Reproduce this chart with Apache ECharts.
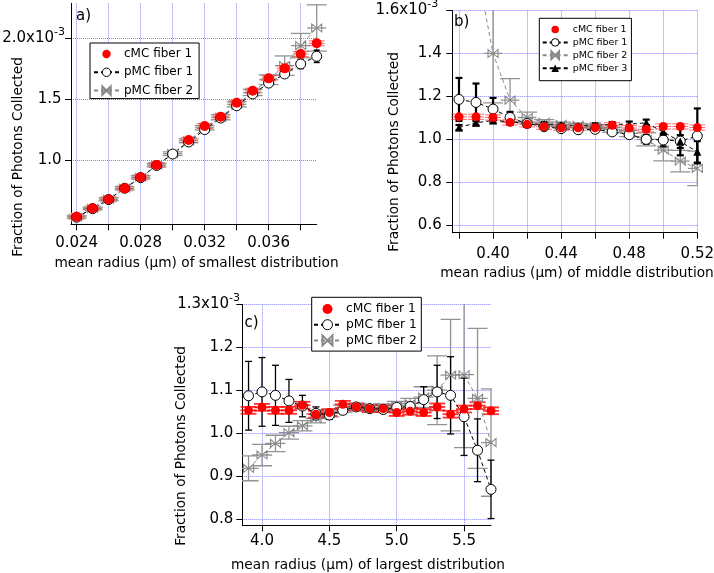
<!DOCTYPE html>
<html><head><meta charset="utf-8">
<script src="https://cdn.jsdelivr.net/npm/echarts@6/dist/echarts.min.js"></script>
<style>html,body{margin:0;padding:0;background:#fff}#c{width:714px;height:573px}</style>
</head><body><div id="c"></div>
<script>
// ---------- DATA (y values in units of 1e-3) ----------
// Panel a: smallest distribution
const aX = [0.024, 0.025, 0.026, 0.027, 0.028, 0.029, 0.030, 0.031, 0.032, 0.033, 0.034, 0.035, 0.036, 0.037, 0.038, 0.039];
const aCmc = [0.534, 0.603, 0.677, 0.767, 0.858, 0.959, null, 1.164, 1.279, 1.356, 1.471, 1.569, 1.671, 1.753, 1.871, 1.959];
const aP1 = [0.530, 0.600, 0.675, 0.768, 0.855, 0.955, 1.049, 1.148, 1.250, 1.345, 1.446, 1.543, 1.632, 1.707, 1.789, 1.852];
const aP1Err = [0.008, 0.008, 0.009, 0.009, 0.010, 0.010, 0.011, 0.012, 0.013, 0.014, 0.015, 0.016, 0.020, 0.027, 0.037, 0.050];
const aP2 = [0.532, 0.602, 0.678, 0.768, 0.858, 0.958, 1.052, 1.158, 1.265, 1.350, 1.458, 1.555, 1.660, 1.775, 1.940, 2.085];
const aP2Err = [0.010, 0.010, 0.012, 0.012, 0.013, 0.014, 0.015, 0.016, 0.018, 0.020, 0.022, 0.025, 0.040, 0.080, 0.100, 0.190];
const aCmcYErr = 0.02, aCmcXErr = 0.0005, aP2XErr = 0.0006;
const aXTicks = [0.024, 0.026, 0.028, 0.030, 0.032, 0.034, 0.036, 0.038];
const aXLabels = [0.024, 0.028, 0.032, 0.036];
const aYTicks = [1.0, 1.5, 2.0];

// Panel b: middle distribution
const bX = [0.38, 0.39, 0.40, 0.41, 0.42, 0.43, 0.44, 0.45, 0.46, 0.47, 0.48, 0.49, 0.50, 0.51, 0.52];
const bCmc = [1.105, 1.105, 1.102, 1.079, 1.070, 1.059, 1.054, 1.054, 1.054, 1.066, 1.053, 1.047, 1.060, 1.060, 1.055];
const bP1 = [1.186, 1.172, 1.141, 1.102, 1.074, 1.059, 1.050, 1.045, 1.047, 1.035, 1.022, 1.000, 0.997, 0.992, 1.016];
const bP1Err = [0.100, 0.088, 0.052, 0.026, 0.012, 0.010, 0.010, 0.010, 0.010, 0.010, 0.012, 0.020, 0.030, 0.066, 0.128];
const bP2 = [null, 1.820, 1.400, 1.183, 1.102, 1.080, 1.070, 1.065, 1.060, 1.045, 1.028, 1.000, 0.950, 0.899, 0.865];
const bP2Err = [null, 0.100, 0.230, 0.100, 0.025, 0.012, 0.010, 0.010, 0.010, 0.012, 0.015, 0.030, 0.050, 0.050, 0.080];
const bP3 = [1.055, 1.077, 1.088, 1.083, 1.072, 1.070, 1.066, 1.062, 1.065, 1.070, 1.071, 1.077, 1.035, 0.990, 0.942];
const bP3Err = [0.012, 0.012, 0.012, 0.010, 0.010, 0.010, 0.010, 0.010, 0.010, 0.010, 0.012, 0.015, 0.030, 0.030, 0.050];
const bCmcYErr = 0.012, bCmcXErr = 0.0047, bP2XErr = 0.0055;
const bXTicks = [0.38, 0.40, 0.42, 0.44, 0.46, 0.48, 0.50, 0.52];
const bXLabels = [0.40, 0.44, 0.48, 0.52];
const bYTicks = [0.6, 0.8, 1.0, 1.2, 1.4, 1.6];

// Panel c: largest distribution
const cX = [3.9, 4.0, 4.1, 4.2, 4.3, 4.4, 4.5, 4.6, 4.7, 4.8, 4.9, 5.0, 5.1, 5.2, 5.3, 5.4, 5.5, 5.6, 5.7];
const cCmc = [1.053, 1.060, 1.053, 1.053, 1.065, 1.044, 1.048, 1.067, 1.061, 1.057, 1.057, 1.048, 1.051, 1.048, 1.061, 1.044, 1.056, 1.064, 1.052];
const cP1 = [1.087, 1.096, 1.088, 1.075, 1.063, 1.046, 1.042, 1.053, 1.061, 1.057, 1.055, 1.060, 1.062, 1.078, 1.096, 1.088, 1.038, 0.960, 0.869];
const cP1Err = [0.080, 0.080, 0.070, 0.050, 0.025, 0.015, 0.010, 0.008, 0.008, 0.008, 0.008, 0.008, 0.010, 0.030, 0.062, 0.090, 0.090, 0.073, 0.068];
const cP2 = [0.918, 0.949, 0.976, 1.001, 1.017, 1.034, 1.046, 1.057, 1.061, 1.059, 1.060, 1.064, 1.069, 1.084, 1.100, 1.135, 1.136, 1.081, 0.978];
const cP2Err = [0.029, 0.025, 0.019, 0.015, 0.012, 0.010, 0.008, 0.008, 0.008, 0.008, 0.008, 0.010, 0.012, 0.024, 0.080, 0.130, 0.170, 0.163, 0.125];
const cCmcYErr = 0.008, cCmcXErr = 0.06, cP2XErr = 0.075;
const cXTicks = [4.0, 4.5, 5.0, 5.5];
const cXLabels = [4.0, 4.5, 5.0, 5.5];
const cYTicks = [0.8, 0.9, 1.0, 1.1, 1.2, 1.3];

// ---------- HELPERS ----------
const FONT = '"DejaVu Sans", sans-serif';
const GRIDC = '#6f6ff8';
const BOWTIE = 'path://M0,0L5,4L0,8ZM10,0L5,4L10,8Z';

function pts(xs, ys) { return xs.map((x, i) => [x, ys[i]]); }
function errPts(xs, ys, ey, ex) {
  const out = [];
  xs.forEach((x, i) => {
    if (ys[i] == null) return;
    const e = Array.isArray(ey) ? ey[i] : ey;
    out.push([x, ys[i], e, ex]);
  });
  return out;
}
function errRender(o) {
  return function (params, api) {
    const x = api.value(0), y = api.value(1), ey = api.value(2), ex = api.value(3);
    const c = api.coord([x, y]);
    const st = { stroke: o.color, lineWidth: o.width, fill: null };
    const ch = [];
    if (ey > 0) {
      const t = api.coord([x, y + ey]), b = api.coord([x, y - ey]);
      ch.push({ type: 'line', shape: { x1: c[0], y1: t[1], x2: c[0], y2: b[1] }, style: st });
      ch.push({ type: 'line', shape: { x1: c[0] - o.cap, y1: t[1], x2: c[0] + o.cap, y2: t[1] }, style: st });
      ch.push({ type: 'line', shape: { x1: c[0] - o.cap, y1: b[1], x2: c[0] + o.cap, y2: b[1] }, style: st });
    }
    if (ex > 0) {
      const l = api.coord([x - ex, y]), r = api.coord([x + ex, y]);
      ch.push({ type: 'line', shape: { x1: l[0], y1: c[1], x2: r[0], y2: c[1] }, style: st });
    }
    return { type: 'group', children: ch };
  };
}
let errCount = 0;
function errSeries(g, data, o, clip) {
  errCount++;
  return { type: 'custom', name: 'err' + errCount, xAxisIndex: g, yAxisIndex: g, data,
    encode: { x: 0, y: 1 }, renderItem: errRender(o), clip: !!clip, silent: true };
}
function lineSeries(g, name, data, sym, size, itemStyle, lineStyle, clip) {
  return { type: 'line', name, xAxisIndex: g, yAxisIndex: g, data, symbol: sym, symbolSize: size,
    showSymbol: true, itemStyle, lineStyle, clip: !!clip, silent: true, connectNulls: false,
    emphasis: { disabled: true } };
}
function xAxisCfg(g, min, max, ticks, labels, dec, margin) {
  return { type: 'value', gridIndex: g, min, max, position: 'bottom',
    axisLine: { show: true, onZero: false, lineStyle: { color: '#000', width: 1 } },
    axisTick: { show: true, length: 6, inside: false, customValues: ticks, lineStyle: { color: '#000', width: 1 } },
    axisLabel: { show: true, customValues: labels, margin, formatter: v => v.toFixed(dec),
      fontFamily: FONT, fontSize: 15, color: '#000' },
    splitLine: { show: true, lineStyle: { color: GRIDC, type: [1, 1], width: 1, opacity: 0.85 } },
    minorTick: { show: false }, minorSplitLine: { show: false } };
}
function yAxisCfg(g, min, max, ticks, topVal, margin, nPad, sPad) {
  return { type: 'value', gridIndex: g, min, max, position: 'left',
    axisLine: { show: true, onZero: false, lineStyle: { color: '#000', width: 1 } },
    axisTick: { show: true, length: 6, inside: false, customValues: ticks, lineStyle: { color: '#000', width: 1 } },
    axisLabel: { show: true, customValues: ticks, margin,
      formatter: v => Math.abs(v - topVal) < 1e-9 ? '{m|' + v.toFixed(1) + 'x10}{s|-3}' : '{n|' + v.toFixed(1) + '}',
      rich: {
        m: { fontSize: 15, fontFamily: FONT, color: '#000', lineHeight: 15, verticalAlign: 'middle' },
        s: { fontSize: 11, fontFamily: FONT, color: '#000', lineHeight: 11, verticalAlign: 'middle', padding: [0, sPad, 12, 0] },
        n: { fontSize: 15, fontFamily: FONT, color: '#000', padding: [0, nPad, 0, 0] }
      } },
    splitLine: { show: true, lineStyle: { color: GRIDC, type: [1, 1], width: 1, opacity: 0.85 } },
    minorTick: { show: false }, minorSplitLine: { show: false } };
}
function gridCfg(l, t, w, h) {
  return { left: l, top: t, width: w, height: h, containLabel: false, outerBoundsMode: 'none', show: false };
}
const p1Legend = { name: 'pMC fiber 1', itemStyle: { color: '#fff', borderColor: '#000', borderWidth: 1 } };
function legendCfg(l, t, fs, ih, gap, pad, iw, names) {
  return { left: l, top: t, orient: 'vertical', itemWidth: iw, itemHeight: ih, itemGap: gap, padding: pad,
    borderColor: '#000', borderWidth: 1, borderRadius: 0, backgroundColor: '#fff', selectedMode: false,
    textStyle: { fontFamily: FONT, fontSize: fs, color: '#000' },
    data: names.map(n => n === 'pMC fiber 1' ? p1Legend : n), z: 20 };
}
function txt(x, y, s, size, rot, align) {
  return { type: 'text', x, y, rotation: rot || 0, z: 30,
    style: { text: s, font: size + 'px ' + FONT, fill: '#000', align: align || 'center', textAlign: align || 'center',
      verticalAlign: 'middle', textVerticalAlign: 'middle' } };
}

// styles
const RED = { color: 'rgba(255,30,30,0.65)', width: 1, cap: 8 };
const REDC = { color: 'rgba(255,0,0,0.8)', width: 1.8, cap: 8 };
const GREY = { color: '#929292', width: 1.3, cap: 10 };
const BLK_A = { color: '#000', width: 1.6, cap: 3 };
const BLK_B = { color: '#000', width: 2.2, cap: 3.5 };
const BLK_C = { color: '#000', width: 1.3, cap: 3.5 };
const redItem = { color: '#ff0000', borderWidth: 0 };
const p1Item = { color: '#fff', borderColor: '#000', borderWidth: 1 };
const p2Item = { color: 'rgba(255,255,255,0)', borderColor: '#888', borderWidth: 1 };
const p3Item = { color: '#000', borderWidth: 0 };
const noLine = { width: 0, opacity: 0 };
const blkDash = { color: '#000', width: 1, type: [4, 3] };
const greyDash = { color: '#888', width: 1, type: [4, 3] };

const series = [
  // panel a
  lineSeries(0, 'pMC fiber 2', pts(aX, aP2), BOWTIE, [10, 8], p2Item, greyDash),
  errSeries(0, errPts(aX, aP2, aP2Err, aP2XErr), GREY),
  lineSeries(0, 'pMC fiber 1', pts(aX, aP1), 'circle', 10, p1Item, blkDash),
  errSeries(0, errPts(aX, aP1, aP1Err, 0), BLK_A),
  lineSeries(0, 'cMC fiber 1', pts(aX, aCmc), 'circle', 10, redItem, noLine),
  errSeries(0, errPts(aX, aCmc, aCmcYErr, aCmcXErr), RED),
  // panel b
  lineSeries(1, 'pMC fiber 2', pts(bX, bP2), BOWTIE, [10, 8], p2Item, greyDash, true),
  errSeries(1, errPts(bX, bP2, bP2Err, bP2XErr), GREY, true),
  lineSeries(1, 'pMC fiber 1', pts(bX, bP1), 'circle', 10, p1Item, blkDash),
  errSeries(1, errPts(bX, bP1, bP1Err, 0), BLK_B),
  lineSeries(1, 'pMC fiber 3', pts(bX, bP3), 'triangle', 8, p3Item, blkDash),
  errSeries(1, errPts(bX, bP3, bP3Err, 0), BLK_B),
  lineSeries(1, 'cMC fiber 1', pts(bX, bCmc), 'circle', 9, redItem, noLine),
  errSeries(1, errPts(bX, bCmc, bCmcYErr, bCmcXErr), RED),
  // panel c
  lineSeries(2, 'pMC fiber 2', pts(cX, cP2), BOWTIE, [10, 8], p2Item, greyDash),
  errSeries(2, errPts(cX, cP2, cP2Err, cP2XErr), GREY, true),
  lineSeries(2, 'pMC fiber 1', pts(cX, cP1), 'circle', 10, p1Item, blkDash),
  errSeries(2, errPts(cX, cP1, cP1Err, 0), BLK_C),
  lineSeries(2, 'cMC fiber 1', pts(cX, cCmc), 'circle', 9, redItem, noLine),
  errSeries(2, errPts(cX, cCmc, cCmcYErr, cCmcXErr), REDC)
];

const option = {
  animation: false,
  backgroundColor: '#fff',
  grid: [gridCfg(71, 3.3, 245.7, 221), gridCfg(452.3, 10.5, 245, 222.2), gridCfg(242.3, 304.3, 248.7, 221)],
  xAxis: [
    xAxisCfg(0, 0.02365, 0.039, aXTicks, aXLabels, 3, 11),
    xAxisCfg(1, 0.37607, 0.52, bXTicks, bXLabels, 2, 14),
    xAxisCfg(2, 3.8537, 5.7, cXTicks, cXLabels, 1, 8)
  ],
  yAxis: [
    yAxisCfg(0, 0.4717, 2.2876, aYTicks, 2.0, 6, 3.5, 0),
    yAxisCfg(1, 0.5656, 1.6, bYTicks, 1.6, 10.6, 0, 3.4),
    yAxisCfg(2, 0.7853, 1.3, cYTicks, 1.3, 2.3, 6.7, 0)
  ],
  legend: [
    legendCfg(90, 43, 12, 10.5, 6.3, [5, 6, 2, 3], 25, ['cMC fiber 1', 'pMC fiber 1', 'pMC fiber 2']),
    legendCfg(539.3, 18.3, 9.5, 9.5, 2.9, [6.2, 4, 7.5, 2.4], 25, ['cMC fiber 1', 'pMC fiber 1', 'pMC fiber 2', 'pMC fiber 3']),
    legendCfg(311.7, 297.3, 12.3, 12.5, 3.7, [5.7, 4.5, 4.7, 1.3], 27, ['cMC fiber 1', 'pMC fiber 1', 'pMC fiber 2'])
  ],
  graphic: [
    txt(18, 157, 'Fraction of Photons Collected', 13.7, Math.PI / 2),
    txt(394, 152, 'Fraction of Photons Collected', 13.7, Math.PI / 2),
    txt(181, 446, 'Fraction of Photons Collected', 13.7, Math.PI / 2),
    txt(196.5, 263, 'mean radius (\u03bcm) of smallest distribution', 13.7, 0),
    txt(577, 273, 'mean radius (\u03bcm) of middle distribution', 13.7, 0),
    txt(368, 565, 'mean radius (\u03bcm) of largest distribution', 13.7, 0),
    txt(76, 16, 'a)', 15, 0, 'left'),
    txt(454, 22.5, 'b)', 15, 0, 'left'),
    txt(244.5, 323, 'c)', 15, 0, 'left')
  ],
  series
};
const chart = echarts.init(document.getElementById('c'), null, { renderer: 'canvas' });
chart.setOption(option);
</script>
</body></html>
